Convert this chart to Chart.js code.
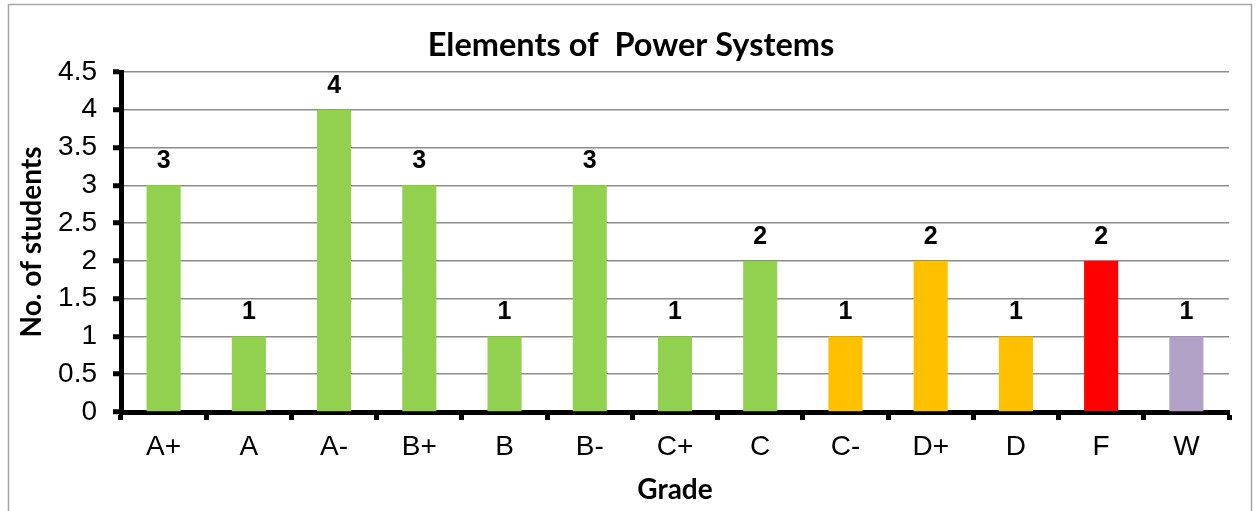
<!DOCTYPE html>
<html>
<head>
<meta charset="utf-8">
<script src="https://cdn.jsdelivr.net/npm/chart.js@4/dist/chart.umd.min.js"></script>
<style>
  html, body { margin: 0; padding: 0; background: #ffffff; }
  #wrap { width: 1260px; height: 511px; }
</style>
</head>
<body>
<div id="wrap"><canvas id="c" width="1260" height="511"></canvas></div>
<script>
const categories = ["A+", "A", "A-", "B+", "B", "B-", "C+", "C", "C-", "D+", "D", "F", "W"];
const students = [3, 1, 4, 3, 1, 3, 1, 2, 1, 2, 1, 2, 1];
const barColors = ["#92D050", "#92D050", "#92D050", "#92D050", "#92D050", "#92D050", "#92D050", "#92D050",
                   "#FFC000", "#FFC000", "#FFC000", "#FF0000", "#B2A1C7"];
const yTicks = [0, 0.5, 1, 1.5, 2, 2.5, 3, 3.5, 4, 4.5];
const chartTitle = "Elements of  Power Systems";
const xTitle = "Grade";
const yTitle = "No. of students";

const frame = {
  id: 'frame',
  beforeDraw(chart) {
    const ctx = chart.ctx;
    ctx.save();
    ctx.fillStyle = '#ffffff';
    ctx.fillRect(0, 0, chart.width, chart.height);
    ctx.strokeStyle = '#a6a6a6';
    ctx.lineWidth = 1.5;
    ctx.beginPath();
    ctx.moveTo(8.5, 530);
    ctx.lineTo(8.5, 4.5);
    ctx.lineTo(1251.5, 4.5);
    ctx.lineTo(1251.5, 530);
    ctx.stroke();
    ctx.restore();
  }
};

const titleText = {
  id: 'titleText',
  afterDraw(chart) {
    const ctx = chart.ctx;
    ctx.save();
    ctx.font = 'bold 32.5px Lato, "Open Sans", sans-serif';
    ctx.fillStyle = '#000000';
    ctx.textAlign = 'center';
    ctx.textBaseline = 'middle';
    ctx.fillText(chartTitle, 631, 46);
    ctx.restore();
  }
};

const valueLabels = {
  id: 'valueLabels',
  afterDatasetsDraw(chart) {
    const ctx = chart.ctx;
    const meta = chart.getDatasetMeta(0);
    ctx.save();
    ctx.font = 'bold 25px "Liberation Sans", Arial, sans-serif';
    ctx.fillStyle = '#000000';
    ctx.textAlign = 'center';
    ctx.textBaseline = 'alphabetic';
    meta.data.forEach((bar, i) => {
      ctx.fillText(String(chart.data.datasets[0].data[i]), bar.x, bar.y - 17);
    });
    ctx.restore();
  }
};

new Chart(document.getElementById('c'), {
  type: 'bar',
  data: {
    labels: categories,
    datasets: [{
      data: students,
      backgroundColor: barColors,
      borderWidth: 0,
      categoryPercentage: 1.0,
      barPercentage: 0.4
    }]
  },
  options: {
    responsive: false,
    animation: false,
    devicePixelRatio: 1,
    layout: { padding: { left: 0, right: 31, top: 72, bottom: 0 } },
    plugins: {
      legend: { display: false },
      tooltip: { enabled: false },
      title: { display: false }
    },
    scales: {
      x: {
        afterFit(scale) { scale.height = 99; },
        grid: {
          display: true,
          drawOnChartArea: false,
          drawTicks: true,
          offset: true,
          tickLength: 8,
          tickColor: '#000000',
          tickWidth: 5
        },
        border: { display: true, color: '#000000', width: 5 },
        ticks: {
          color: '#000000',
          padding: 10,
          font: { family: '"Liberation Sans", Arial, sans-serif', size: 28 }
        },
        title: {
          display: true,
          text: xTitle,
          color: '#000000',
          font: { family: 'Lato, "Open Sans", sans-serif', size: 28, weight: 'bold', lineHeight: 1.2 },
          padding: { top: 0, bottom: 4 }
        }
      },
      y: {
        min: 0,
        max: 4.5,
        afterFit(scale) { scale.width = 121; },
        afterBuildTicks(scale) { scale.ticks = yTicks.map(v => ({ value: v })); },
        grid: {
          color: '#8c8c8c',
          lineWidth: 1.5,
          drawTicks: true,
          tickLength: 8,
          tickColor: '#000000',
          tickWidth: 5
        },
        border: { display: true, color: '#000000', width: 5 },
        ticks: {
          color: '#000000',
          padding: 16,
          font: { family: '"Liberation Sans", Arial, sans-serif', size: 28 },
          callback: (v) => String(v)
        },
        title: {
          display: true,
          text: yTitle,
          color: '#000000',
          font: { family: 'Lato, "Open Sans", sans-serif', size: 28, weight: 'bold', lineHeight: 1.2 },
          padding: { top: 15, bottom: 0 }
        }
      }
    }
  },
  plugins: [frame, titleText, valueLabels]
});
</script>
</body>
</html>
